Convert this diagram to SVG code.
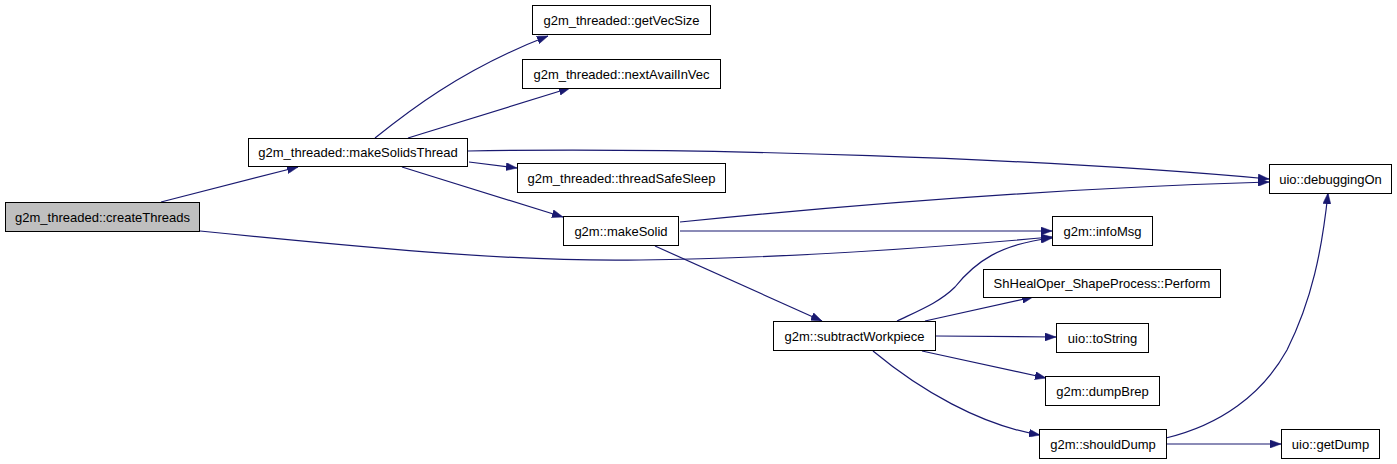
<svg xmlns="http://www.w3.org/2000/svg" width="1397" height="464" viewBox="0 0 1397 464">
<style>
.n rect{fill:#ffffff;stroke:#000000;stroke-width:1}
.n.root rect{fill:#bfbfbf}
.n text{font-family:"Liberation Sans",Arial,sans-serif;font-size:13px;text-anchor:middle;fill:#000000}
.e path{fill:none;stroke:#191970;stroke-width:1.2;marker-end:url(#ah)}
</style>
<defs>
<marker id="ah" markerUnits="userSpaceOnUse" markerWidth="11" markerHeight="8" refX="11" refY="4" orient="auto">
<path d="M0,0 L11,4 L0,8 z" fill="#191970" stroke="#191970" stroke-width="0.5"/>
</marker>
</defs>
<rect width="1397" height="464" fill="#ffffff"/>
<g id="edges" class="e">
<path d="M161,202 L298,167"/>
<path d="M200,231 C390,250 520,262 640,260 C790,258 930,248 1052,237"/>
<path d="M375,138 C405,114 460,70 548,36"/>
<path d="M408,138 L570,88"/>
<path d="M468,151 C700,147 1040,158 1269,179"/>
<path d="M469,162 L517,168"/>
<path d="M402,167 L563,217"/>
<path d="M680,222 C850,205 1060,188 1269,182"/>
<path d="M680,231 L1052,231"/>
<path d="M655,246 L822,321"/>
<path d="M897,321 C920,310 940,302 955,287 C975,262 1000,244 1052,238"/>
<path d="M925,321 L1033,297"/>
<path d="M936,336 L1056,337"/>
<path d="M922,351 L1046,378"/>
<path d="M873,351 C920,390 980,425 1040,435"/>
<path d="M1166,438 C1220,425 1262,395 1287,350 C1312,300 1322,250 1328,193"/>
<path d="M1167,444 L1281,444"/>
</g>
<g id="createThreads" class="n root"><rect x="5.5" y="202.5" width="194" height="29"/><text x="102.5" y="221.5">g2m_threaded::createThreads</text></g>
<g id="makeSolidsThread" class="n"><rect x="248.5" y="138.5" width="219" height="28"/><text x="358" y="157">g2m_threaded::makeSolidsThread</text></g>
<g id="getVecSize" class="n"><rect x="532.5" y="5.5" width="178" height="29"/><text x="621.5" y="24.5">g2m_threaded::getVecSize</text></g>
<g id="nextAvailInVec" class="n"><rect x="522.5" y="59.5" width="198" height="29"/><text x="621.5" y="78.5">g2m_threaded::nextAvailInVec</text></g>
<g id="threadSafeSleep" class="n"><rect x="517.5" y="163.5" width="208" height="29"/><text x="621.5" y="182.5">g2m_threaded::threadSafeSleep</text></g>
<g id="makeSolid" class="n"><rect x="563.5" y="216.5" width="115" height="29"/><text x="621" y="235.5">g2m::makeSolid</text></g>
<g id="subtractWorkpiece" class="n"><rect x="773.5" y="321.5" width="162" height="29"/><text x="854.5" y="340.5">g2m::subtractWorkpiece</text></g>
<g id="debuggingOn" class="n"><rect x="1269.5" y="164.5" width="122" height="29"/><text x="1330.5" y="183.5">uio::debuggingOn</text></g>
<g id="infoMsg" class="n"><rect x="1052.5" y="216.5" width="100" height="29"/><text x="1102.5" y="235.5">g2m::infoMsg</text></g>
<g id="Perform" class="n"><rect x="983.5" y="269.5" width="237" height="28"/><text x="1102" y="288">ShHealOper_ShapeProcess::Perform</text></g>
<g id="toString" class="n"><rect x="1056.5" y="323.5" width="92" height="29"/><text x="1102.5" y="342.5">uio::toString</text></g>
<g id="dumpBrep" class="n"><rect x="1045.5" y="376.5" width="114" height="29"/><text x="1102.5" y="395.5">g2m::dumpBrep</text></g>
<g id="shouldDump" class="n"><rect x="1039.5" y="429.5" width="127" height="29"/><text x="1103" y="448.5">g2m::shouldDump</text></g>
<g id="getDump" class="n"><rect x="1281.5" y="429.5" width="98" height="29"/><text x="1330.5" y="448.5">uio::getDump</text></g>
</svg>
